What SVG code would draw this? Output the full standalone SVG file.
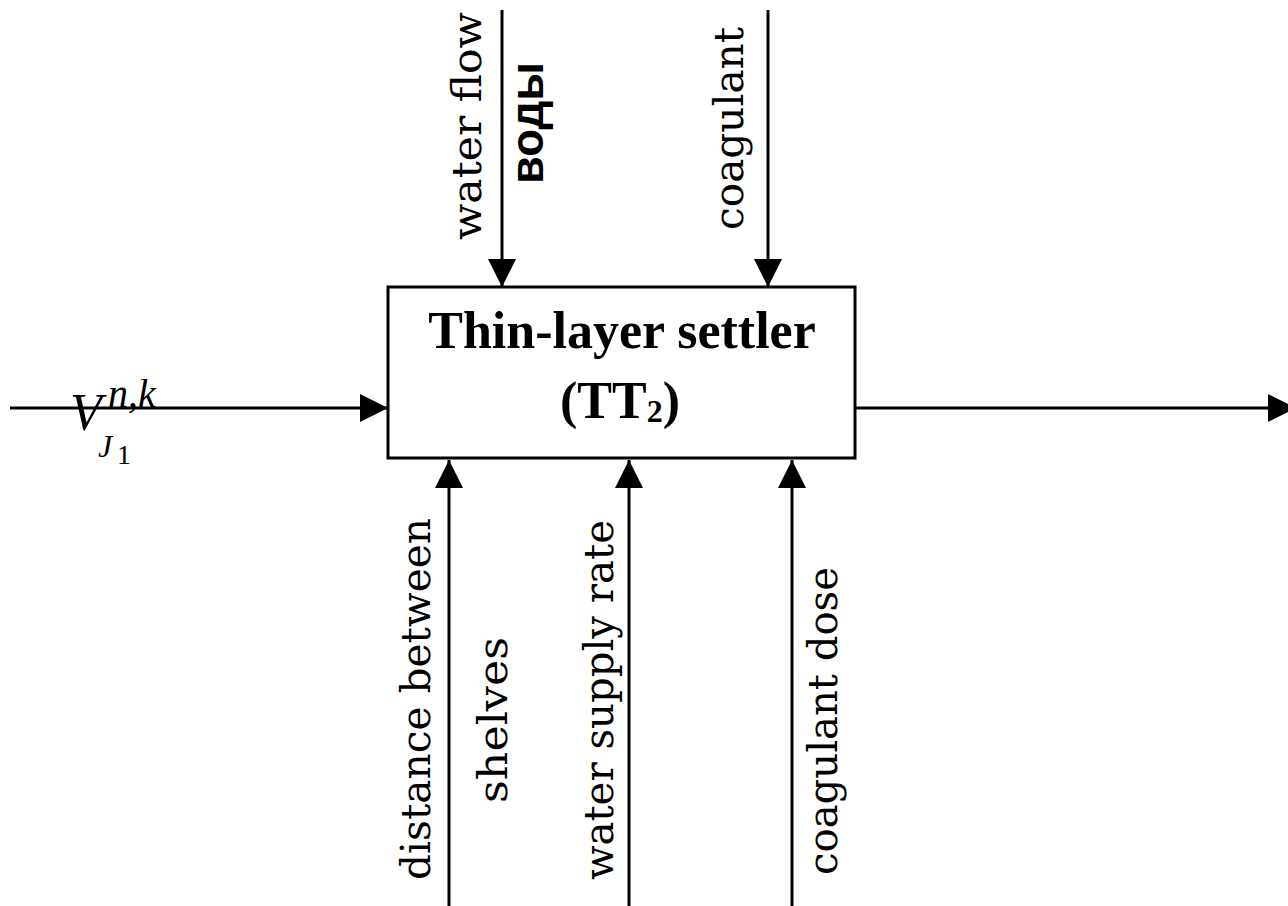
<svg xmlns="http://www.w3.org/2000/svg" width="1288" height="906" viewBox="0 0 1288 906">
  <style>
    .flow { stroke: #000; stroke-width: 3; fill: none; }
    .box { fill: #fff; stroke: #000; stroke-width: 3; }
    .lbl { font-family: "DejaVu Serif", "Liberation Serif", serif; font-size: 41px; fill: #000; }
    .title { font-family: "Liberation Serif", "Times New Roman", serif; font-weight: bold; font-size: 52px; fill: #000; text-anchor: middle; }
    .ru { font-family: "Liberation Sans", Arial, sans-serif; font-weight: bold; font-size: 46px; fill: #000; }
    .math { font-family: "Liberation Serif", "Times New Roman", serif; font-style: italic; fill: #000; }
    .num { font-family: "Liberation Serif", "Times New Roman", serif; fill: #000; }
  </style>
  <defs>
    <marker id="arrow" viewBox="0 0 28 28" refX="28" refY="14" markerWidth="28" markerHeight="28" markerUnits="userSpaceOnUse" orient="auto">
      <path d="M0,0 L28,14 L0,28 z" fill="#000"/>
    </marker>
  </defs>

  <!-- connectors -->
  <g id="connectors">
    <line class="flow" x1="10" y1="408" x2="388" y2="408" marker-end="url(#arrow)"/>
    <line class="flow" x1="855" y1="408" x2="1296" y2="408" marker-end="url(#arrow)"/>
    <line class="flow" x1="502" y1="10" x2="502" y2="287" marker-end="url(#arrow)"/>
    <line class="flow" x1="768" y1="10" x2="768" y2="287" marker-end="url(#arrow)"/>
    <line class="flow" x1="449" y1="906" x2="449" y2="460" marker-end="url(#arrow)"/>
    <line class="flow" x1="629" y1="906" x2="629" y2="460" marker-end="url(#arrow)"/>
    <line class="flow" x1="792" y1="906" x2="792" y2="460" marker-end="url(#arrow)"/>
  </g>

  <!-- process block -->
  <g id="settler">
    <rect class="box" x="388" y="287" width="467" height="171"/>
    <text class="title" x="622" y="348">Thin-layer settler</text>
    <text class="title" x="620" y="418">(TT<tspan font-size="32" dy="4">2</tspan><tspan dy="-4">)</tspan></text>
  </g>

  <!-- input variable -->
  <g id="input-label">
    <text class="math" x="70" y="430" font-size="52">V</text>
    <text class="math" x="108" y="407" font-size="40">n,k</text>
    <text class="math" x="98" y="457" font-size="32">J</text>
    <text class="num" x="117" y="464" font-size="28">1</text>
  </g>

  <!-- controls (top) -->
  <g id="label-water-flow">
    <text class="lbl" transform="translate(481,240) rotate(-90)" textLength="228" lengthAdjust="spacingAndGlyphs">water flow</text>
    <text class="ru" transform="translate(543,184) rotate(-90)" textLength="122" lengthAdjust="spacingAndGlyphs">воды</text>
  </g>
  <g id="label-coagulant">
    <text class="lbl" transform="translate(743,230) rotate(-90)" textLength="203" lengthAdjust="spacingAndGlyphs">coagulant</text>
  </g>

  <!-- mechanisms (bottom) -->
  <g id="label-distance">
    <text class="lbl" transform="translate(430,880) rotate(-90)" textLength="362" lengthAdjust="spacingAndGlyphs">distance between</text>
    <text class="lbl" transform="translate(507,803) rotate(-90)" textLength="166" lengthAdjust="spacingAndGlyphs">shelves</text>
  </g>
  <g id="label-supply-rate">
    <text class="lbl" transform="translate(613,880) rotate(-90)" textLength="360" lengthAdjust="spacingAndGlyphs">water supply rate</text>
  </g>
  <g id="label-dose">
    <text class="lbl" transform="translate(837,875) rotate(-90)" textLength="308" lengthAdjust="spacingAndGlyphs">coagulant dose</text>
  </g>
</svg>
